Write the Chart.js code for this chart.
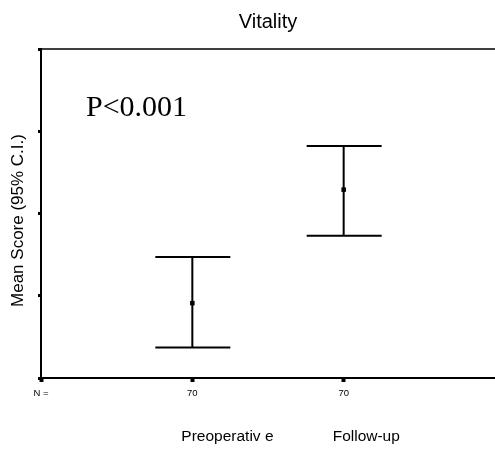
<!DOCTYPE html>
<html>
<head>
<title>Vitality</title>
<style>
    body { margin: 0; background: #fff; }
    #wrap { width: 495px; height: 450px; }
</style>
</head>
<body>
<div id="wrap"><canvas id="chart"></canvas></div>
<script src="https://cdn.jsdelivr.net/npm/chart.js"></script>
<script>
    const categories = ['Preoperativ e', 'Follow-up'];
    const nCounts = ['70', '70'];
    const means = [39.1, 52.9];
    const lowerCI = [33.7, 47.3];
    const upperCI = [44.7, 58.2];
    const yTicks = [30, 40, 50, 60, 70];
    const pValue = 'P<0.001';

    const sans = '"Liberation Sans", Arial, sans-serif';
    const serif = '"Liberation Serif", "Times New Roman", serif';

    // error bars, frame line and the free texts
    const spssBits = {
        id: 'spssBits',
        beforeDatasetsDraw(chart) {
            const { ctx, chartArea, scales: { x, y } } = chart;
            ctx.save();
            ctx.strokeStyle = '#000';
            ctx.lineWidth = 1.5;
            ctx.beginPath();
            ctx.moveTo(chartArea.left, chartArea.top);
            ctx.lineTo(chartArea.right, chartArea.top);
            ctx.stroke();

            ctx.lineWidth = 2;
            means.forEach((m, i) => {
                const px = x.getPixelForValue(i + 1);
                const yLo = y.getPixelForValue(lowerCI[i]);
                const yHi = y.getPixelForValue(upperCI[i]);
                ctx.beginPath();
                ctx.moveTo(px, yHi);
                ctx.lineTo(px, yLo);
                ctx.moveTo(px - 37, yHi);
                ctx.lineTo(px + 38, yHi);
                ctx.moveTo(px - 37, yLo);
                ctx.lineTo(px + 38, yLo);
                ctx.stroke();
            });
            ctx.restore();
        },
        afterDraw(chart) {
            const { ctx, chartArea, scales: { x } } = chart;
            ctx.save();
            ctx.fillStyle = '#000';

            ctx.font = '20px ' + sans;
            ctx.textAlign = 'center';
            ctx.textBaseline = 'alphabetic';
            ctx.fillText('Vitality', (chartArea.left + chartArea.right) / 2, 28);

            ctx.font = '30px ' + serif;
            ctx.textAlign = 'left';
            ctx.fillText(pValue, 86, 116);

            ctx.font = '15.5px ' + sans;
            categories.forEach((c, i) => {
                ctx.fillText(c, x.getPixelForValue(i + 1) - 11, 441);
            });

            ctx.translate(23, (chartArea.top + chartArea.bottom) / 2 + 7);
            ctx.rotate(-Math.PI / 2);
            ctx.textAlign = 'center';
            ctx.font = '17px ' + sans;
            ctx.fillText('Mean Score (95% C.I.)', 0, 0);
            ctx.restore();
        }
    };

    new Chart(document.getElementById('chart'), {
        type: 'scatter',
        data: {
            datasets: [{
                data: means.map((m, i) => ({ x: i + 1, y: m })),
                pointStyle: 'rect',
                pointRadius: 3.2,
                backgroundColor: '#000',
                borderColor: '#000',
                borderWidth: 0,
            }],
        },
        options: {
            responsive: true,
            maintainAspectRatio: false,
            animation: false,
            layout: { autoPadding: false, padding: { top: 49, right: 0, left: 0, bottom: 0 } },
            plugins: {
                legend: { display: false },
                tooltip: { enabled: false },
            },
            scales: {
                x: {
                    type: 'linear',
                    min: 0,
                    max: 3,
                    afterBuildTicks: (scale) => { scale.ticks = [0, 1, 2].map(v => ({ value: v })); },
                    afterFit: (scale) => { scale.height = 72; },
                    border: { display: true, color: '#000', width: 2 },
                    grid: { drawOnChartArea: false, drawTicks: true, tickLength: 4, tickWidth: 4, tickColor: '#000' },
                    ticks: {
                        color: '#000',
                        font: { family: sans, size: 9.5 },
                        padding: 6,
                        maxRotation: 0,
                        autoSkip: false,
                        callback: (v) => v === 0 ? 'N =' : nCounts[v - 1],
                    },
                },
                y: {
                    min: yTicks[0],
                    max: yTicks[yTicks.length - 1],
                    afterBuildTicks: (scale) => { scale.ticks = yTicks.map(v => ({ value: v })); },
                    afterFit: (scale) => { scale.width = 41; },
                    border: { display: true, color: '#000', width: 2 },
                    grid: { drawOnChartArea: false, drawTicks: true, tickLength: 3, tickWidth: 3, tickColor: '#000' },
                    ticks: { callback: () => '' },
                },
            },
        },
        plugins: [spssBits],
    });
</script>
</body>
</html>
